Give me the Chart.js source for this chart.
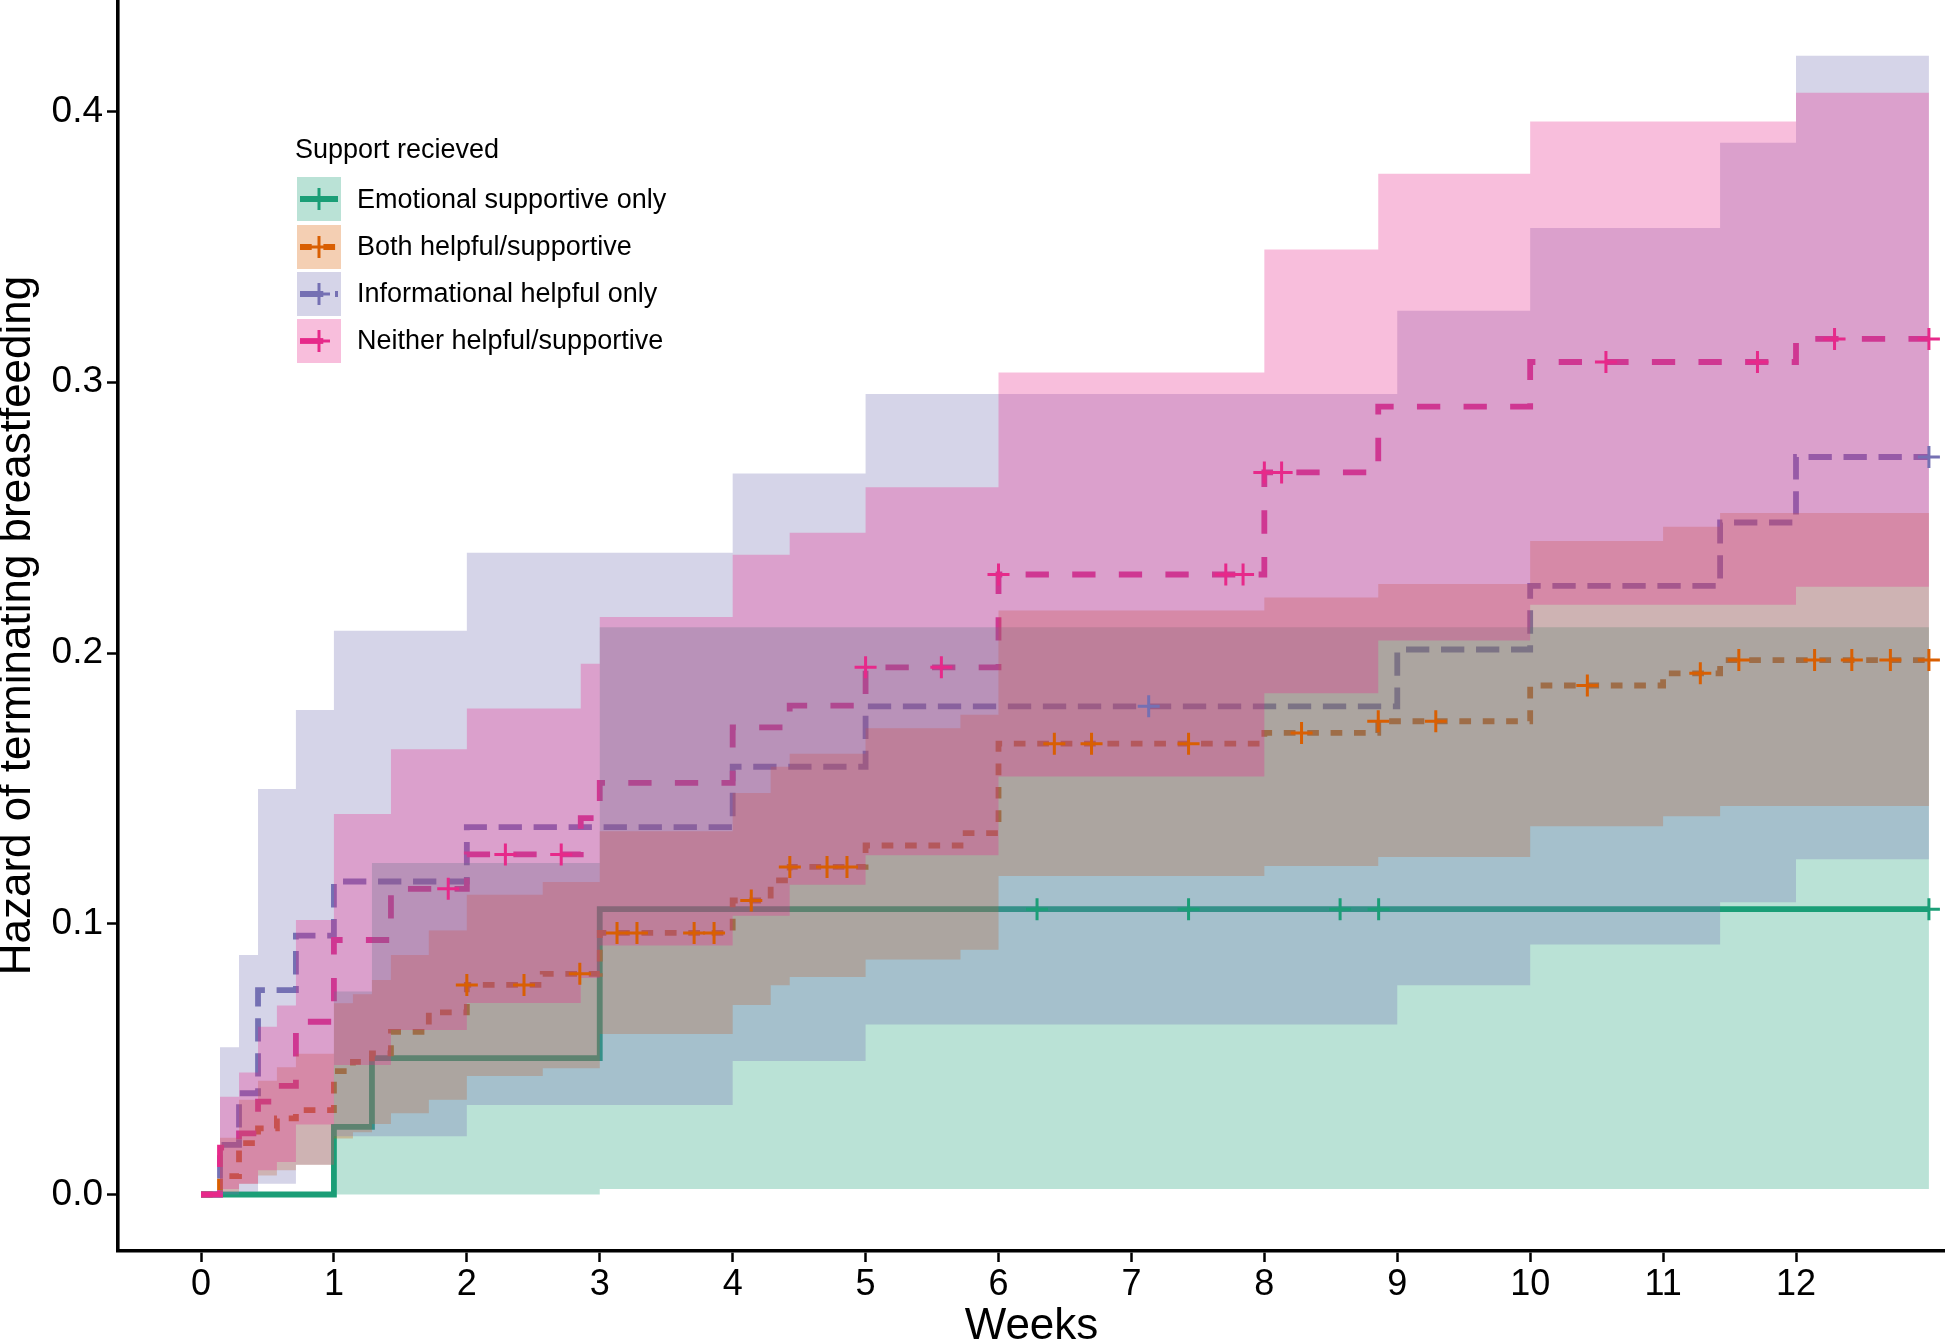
<!DOCTYPE html>
<html>
<head>
	<meta charset="utf-8">
	<title>Hazard of terminating breastfeeding</title>
	<script src="https://cdn.jsdelivr.net/npm/chart.js@4.4.1/dist/chart.umd.min.js"></script>
	<style>
		html, body { margin: 0; padding: 0; background: #fff; }
		#wrap { position: relative; width: 1945px; height: 1343px; }
		#legend { position: absolute; left: 0; top: 0; font-family: "Liberation Sans", Arial, Helvetica, sans-serif; color: #000; }
		#legend .ltitle { position: absolute; left: 295px; top: 134px; font-size: 27px; white-space: nowrap; }
		#legend .row { position: absolute; left: 297px; height: 44px; display: flex; align-items: center; font-size: 27px; white-space: nowrap; }
		#legend .row svg { margin-right: 16px; }
	</style>
	<script type="text/javascript">
	// groups and colours
	var groups = ["Emotional supportive only", "Both helpful/supportive", "Informational helpful only", "Neither helpful/supportive"];
	var colours = ["#1B9E77", "#D95F02", "#7570B3", "#E7298A"];
	var fills = ["rgba(27,158,119,0.3)", "rgba(217,95,2,0.3)", "rgba(117,112,179,0.3)", "rgba(231,41,138,0.3)"];

	// Emotional supportive only
	var emoTime = [0, 1.0, 1.286, 3.0, 13];
	var emoHaz  = [0, 0.025, 0.0504, 0.1054, 0.1054];
	var emoLow  = [0, 0, 0, 0.002, 0.002];
	var emoUp   = [0, 0.075, 0.1224, 0.2095, 0.2095];
	var emoCens = [6.29, 7.43, 8.57, 8.86, 13.0];

	// Both helpful/supportive
	var bothTime = [0, 0.143, 0.286, 0.429, 0.571, 0.714, 1.0, 1.143, 1.286, 1.429, 1.714, 2.0, 2.571, 3.0, 4.0, 4.286, 4.429, 5.0, 5.714, 6.0, 8.0, 8.857, 10.0, 11.0, 11.429, 13];
	var bothHaz  = [0, 0.0068, 0.019, 0.0244, 0.0281, 0.0312, 0.0456, 0.049, 0.0521, 0.0601, 0.0673, 0.0774, 0.0815, 0.0966, 0.1086, 0.116, 0.121, 0.1289, 0.1335, 0.1665, 0.1705, 0.1748, 0.188, 0.1925, 0.1974, 0.1974];
	var bothLow  = [0, 0.001, 0.004, 0.007, 0.009, 0.011, 0.0207, 0.023, 0.026, 0.030, 0.035, 0.0438, 0.0466, 0.0593, 0.070, 0.0773, 0.0803, 0.0868, 0.0904, 0.1176, 0.1213, 0.1247, 0.136, 0.1397, 0.1435, 0.1435];
	var bothUp   = [0, 0.021, 0.035, 0.042, 0.047, 0.052, 0.0706, 0.074, 0.0792, 0.0885, 0.0975, 0.1107, 0.1154, 0.1342, 0.1483, 0.158, 0.1628, 0.1722, 0.1772, 0.2157, 0.2205, 0.2255, 0.2414, 0.2466, 0.2517, 0.2517];
	var bothCens = [2.0, 2.43, 2.85, 3.13, 3.28, 3.71, 3.86, 4.14, 4.43, 4.71, 4.86, 6.42, 6.70, 7.43, 8.28, 8.857, 9.29, 10.43, 11.28, 11.57, 12.14, 12.42, 12.71, 13.0];

	// Informational helpful only
	var infoTime = [0, 0.143, 0.286, 0.429, 0.714, 1.0, 2.0, 4.0, 5.0, 9.0, 10.0, 11.429, 12.0, 13];
	var infoHaz  = [0, 0.0183, 0.0374, 0.0755, 0.0956, 0.1156, 0.1357, 0.158, 0.1803, 0.2013, 0.2248, 0.2482, 0.2724, 0.2724];
	var infoLow  = [0, 0, 0.001, 0.004, 0.011, 0.0215, 0.0331, 0.0493, 0.0628, 0.0773, 0.0923, 0.1079, 0.1238, 0.1238];
	var infoUp   = [0, 0.0544, 0.0885, 0.1498, 0.179, 0.2082, 0.237, 0.2663, 0.2957, 0.3264, 0.357, 0.3885, 0.4206, 0.4206];
	var infoCens = [7.13, 13.0];

	// Neither helpful/supportive
	var neitherTime = [0, 0.143, 0.286, 0.429, 0.571, 0.714, 1.0, 1.429, 2.0, 2.857, 3.0, 4.0, 4.429, 5.0, 6.0, 8.0, 8.857, 10.0, 12.0, 13];
	var neitherHaz  = [0, 0.0173, 0.0226, 0.0343, 0.0401, 0.0638, 0.094, 0.1129, 0.1256, 0.139, 0.152, 0.1725, 0.1806, 0.1947, 0.229, 0.2667, 0.291, 0.3075, 0.316, 0.316];
	var neitherLow  = [0, 0.002, 0.004, 0.009, 0.012, 0.0259, 0.0478, 0.0608, 0.0707, 0.080, 0.092, 0.103, 0.1144, 0.1253, 0.1544, 0.1851, 0.2046, 0.2178, 0.2245, 0.2245];
	var neitherUp   = [0, 0.0361, 0.0451, 0.062, 0.0698, 0.1014, 0.1405, 0.1645, 0.1795, 0.196, 0.2133, 0.2363, 0.2444, 0.2612, 0.3036, 0.349, 0.377, 0.3963, 0.4069, 0.4069];
	var neitherCens = [1.86, 2.29, 2.71, 5.0, 5.57, 6.0, 7.71, 7.84, 8.0, 8.13, 10.57, 11.71, 12.29, 13.0];

	var xTicks = [0, 1, 2, 3, 4, 5, 6, 7, 8, 9, 10, 11, 12];
	var yTicks = [0, 0.1, 0.2, 0.3, 0.4];

	var series = [
		{time: emoTime, haz: emoHaz, low: emoLow, up: emoUp, cens: emoCens, dash: []},
		{time: bothTime, haz: bothHaz, low: bothLow, up: bothUp, cens: bothCens, dash: [11.7, 11.7]},
		{time: infoTime, haz: infoHaz, low: infoLow, up: infoUp, cens: infoCens, dash: [23.3, 11.7]},
		{time: neitherTime, haz: neitherHaz, low: neitherLow, up: neitherUp, cens: neitherCens, dash: [23.3, 23.3]}
	];

	var FONT = '"Liberation Sans", Arial, Helvetica, sans-serif';

	function pts(xs, ys) {
		var out = [];
		for (var i = 0; i < xs.length; i++) out.push({x: xs[i], y: ys[i]});
		return out;
	}
	// value of the step curve at time t
	function stepAt(xs, ys, t) {
		var v = ys[0];
		for (var i = 0; i < xs.length; i++) { if (xs[i] <= t + 1e-9) v = ys[i]; }
		return v;
	}

	window.onload = function () {
		var datasets = [];
		// step lines (drawn first, under the ribbons)
		series.forEach(function (s, i) {
			datasets.push({
				label: groups[i], data: pts(s.time, s.haz), stepped: true,
				borderColor: colours[i], borderWidth: 5.8, borderDash: s.dash,
				pointRadius: 0, fill: false, order: 10 - i
			});
		});
		// confidence ribbons
		series.forEach(function (s, i) {
			datasets.push({
				label: groups[i] + " upper", data: pts(s.time, s.up), stepped: true,
				borderWidth: 0, borderColor: "rgba(0,0,0,0)", backgroundColor: fills[i],
				pointRadius: 0, fill: "+1", order: 6 - i
			});
			datasets.push({
				label: groups[i] + " lower", data: pts(s.time, s.low), stepped: true,
				borderWidth: 0, borderColor: "rgba(0,0,0,0)",
				pointRadius: 0, fill: false, order: 6 - i
			});
		});
		// censoring marks
		series.forEach(function (s, i) {
			var c = s.cens.map(function (t) { return {x: t, y: stepAt(s.time, s.haz, t)}; });
			datasets.push({
				label: groups[i] + " censored", data: c, showLine: false,
				pointStyle: "cross", pointRadius: 11, pointBorderWidth: 3,
				pointBorderColor: colours[i], borderColor: colours[i], order: 0
			});
		});

		var ctx = document.getElementById("chart").getContext("2d");
		window.chart = new Chart(ctx, {
			type: "line",
			data: {datasets: datasets},
			options: {
				responsive: false,
				animation: false,
				events: [],
				layout: {padding: 0, autoPadding: false},
				plugins: {legend: {display: false}, tooltip: {enabled: false}},
				scales: {
					x: {
						type: "linear", min: -0.6245, max: 13.121,
						afterBuildTicks: function (sc) { sc.ticks = xTicks.map(function (v) { return {value: v}; }); },
						afterFit: function (sc) { sc.height = 92; sc.paddingLeft = 0; sc.paddingRight = 0; },
						border: {display: true, color: "#000", width: 3.6},
						grid: {display: true, drawOnChartArea: false, drawTicks: true, tickLength: 11, tickWidth: 2.5, tickColor: "#000"},
						ticks: {autoSkip: false, maxRotation: 0, padding: 1, color: "#000", font: {family: FONT, size: 36}},
						title: {display: true, text: "Weeks", color: "#000", font: {family: FONT, size: 44, lineHeight: 1}, padding: {top: 0, bottom: -6}}
					},
					y: {
						type: "linear", min: -0.02087, max: 0.4412,
						afterBuildTicks: function (sc) { sc.ticks = yTicks.map(function (v) { return {value: v}; }); },
						afterFit: function (sc) { sc.width = 118; sc.paddingTop = 0; sc.paddingBottom = 0; },
						border: {display: true, color: "#000", width: 3.6},
						grid: {display: true, drawOnChartArea: false, drawTicks: true, tickLength: 11, tickWidth: 2.5, tickColor: "#000"},
						ticks: {padding: 4, color: "#000", font: {family: FONT, size: 37}, callback: function (v) { return v.toFixed(1); }},
						title: {display: true, text: "Hazard of terminating breastfeeding", color: "#000", font: {family: FONT, size: 44, lineHeight: 1}, padding: {top: -4, bottom: 0}}
					}
				}
			}
		});

		// legend (html)
		var lg = document.getElementById("legend");
		var t = document.createElement("div");
		t.className = "ltitle";
		t.textContent = "Support recieved";
		lg.appendChild(t);
		groups.forEach(function (g, i) {
			var row = document.createElement("div");
			row.className = "row";
			row.style.top = (177.3 + 47.2 * i) + "px";
			var d = series[i].dash.length ? ' stroke-dasharray="' + series[i].dash.join(" ") + '"' : "";
			row.innerHTML =
				'<svg width="44" height="44" viewBox="0 0 44 44">' +
				'<rect x="0" y="0" width="44" height="44" fill="' + fills[i] + '"/>' +
				'<line x1="3" y1="22" x2="41" y2="22" stroke="' + colours[i] + '" stroke-width="5.8"' + d + '/>' +
				'<line x1="22" y1="11" x2="22" y2="33" stroke="' + colours[i] + '" stroke-width="3"/>' +
				'<line x1="11" y1="22" x2="33" y2="22" stroke="' + colours[i] + '" stroke-width="3"/>' +
				'</svg><span>' + g + '</span>';
			lg.appendChild(row);
		});
	};
	</script>
</head>
<body>
	<div id="wrap">
		<canvas id="chart" width="1945" height="1343"></canvas>
		<div id="legend"></div>
	</div>
</body>
</html>
